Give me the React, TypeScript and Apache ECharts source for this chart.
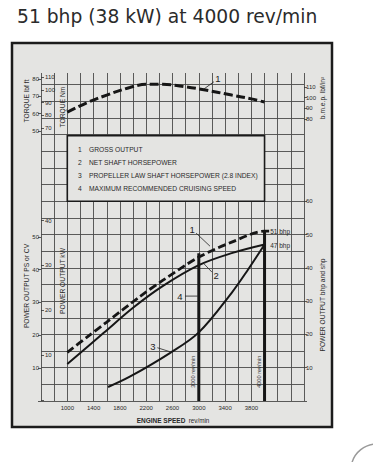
import React, { useEffect, useRef } from 'react';
import * as echarts from 'echarts';

// ---- data ----
const rpmLabels = [1000, 1400, 1800, 2200, 2600, 3000, 3400, 3800];
const torqueRpm = [1000, 1300, 1600, 1950, 2200, 2450, 2800, 3100, 3500, 3800, 4000];
const torqueNm = [82.5, 90, 96, 102, 104.5, 104.5, 102.5, 100, 96, 93, 90.5];
const grossRpm = [1000, 1300, 1600, 2100, 2450, 3000, 3500, 4000, 4070];
const grossBhp = [14.6, 19.2, 23.7, 31.3, 36.2, 43.2, 47.7, 51, 51];
const netRpm = [1000, 1550, 2000, 2450, 3000, 3500, 4000];
const netBhp = [11.1, 20.4, 28, 34.5, 40.8, 44.4, 47];
const propRpm = [1620, 1950, 2560, 3000, 3500, 3750, 4000];
const propBhp = [4.2, 7.3, 14.4, 20.6, 32.5, 39.5, 47];
const cruiseRpm = [3000, 4000];
const cruiseTop = [44.4, 51];
const legendItems = [
  'GROSS OUTPUT',
  'NET SHAFT HORSEPOWER',
  'PROPELLER LAW SHAFT HORSEPOWER (2.8 INDEX)',
  'MAXIMUM RECOMMENDED CRUISING SPEED',
];

const FONT = 'Liberation Sans, Arial, sans-serif';
const INK = '#2a2a2a';
const PANEL = '#e4e4e2';

const zip = (xs: number[], ys: number[]) => xs.map((x, i) => [x, ys[i]]);

export default function App() {
  const ref = useRef<HTMLDivElement>(null);
  useEffect(() => {
    document.body.style.margin = '0';
    const chart = echarts.init(ref.current!, null, { renderer: 'svg' });
    const L = 41, W = 263, B = 401, PX = 3.33; // px per bhp
    const yOf = (bhp: number) => B - bhp * PX;
    const grids = [
      { left: L, width: W, top: 73, height: B - 73 }, // 0 main (vertical lines, series)
      { left: L, width: W, top: yOf(50 * 0.9863), height: 50 * 0.9863 * PX }, // 1 PS
      { left: L, width: W, top: 220.5, height: 179.5 }, // 2 kW
      { left: L, width: W, top: yOf(60), height: 60 * PX }, // 3 bhp right
      { left: L, width: W, top: 79.2, height: 51.7 }, // 4 lbf ft
      { left: L, width: W, top: 77.3, height: 50.8 }, // 5 Nm
      { left: L, width: W, top: 87, height: 32 }, // 6 bmep
      { left: L, width: W, top: yOf(95), height: 95 * PX }, // 7 horizontal lines
    ];
    const lab = { fontSize: 6, color: INK, fontFamily: FONT };
    const hide0 = (v: number) => (v === 0 ? '' : String(v));
    const tick = (inside: boolean) => ({ show: true, length: 3, inside, lineStyle: { color: '#333', width: 0.8 } });
    const xAxis: any[] = grids.map((_, i) =>
      i === 0
        ? {
            gridIndex: 0, type: 'value', min: 600, max: 4600, interval: 200,
            splitLine: { show: true, lineStyle: { color: '#4a4a4a', width: 0.9 } },
            axisLine: { show: false }, axisTick: { show: false },
            axisLabel: { ...lab, margin: 4, formatter: (v: number) => (rpmLabels.includes(v) ? String(v) : '') },
          }
        : { gridIndex: i, type: 'value', min: 600, max: 4600, show: false }
    );
    const yBase = { type: 'value', splitLine: { show: false }, axisLine: { show: false } };
    const yAxis: any[] = [
      { ...yBase, gridIndex: 0, min: 0, max: 98.5, axisLabel: { show: false }, axisTick: { show: false } },
      { ...yBase, gridIndex: 1, min: 0, max: 50, interval: 10, position: 'left', axisTick: tick(false), axisLabel: { ...lab, margin: 2, formatter: hide0 } },
      { ...yBase, gridIndex: 2, min: 0, max: 40, interval: 10, position: 'left', axisTick: tick(true), axisLabel: { ...lab, inside: true, margin: 4, formatter: hide0 } },
      { ...yBase, gridIndex: 3, min: 0, max: 60, interval: 10, position: 'right', axisTick: tick(false), axisLabel: { ...lab, margin: 2, formatter: hide0 } },
      { ...yBase, gridIndex: 4, min: 50, max: 80, interval: 10, position: 'left', axisTick: tick(false), axisLabel: { ...lab, margin: 2 } },
      { ...yBase, gridIndex: 5, min: 70, max: 110, interval: 10, position: 'left', axisTick: tick(true), axisLabel: { ...lab, inside: true, margin: 4 } },
      { ...yBase, gridIndex: 6, min: 80, max: 110, interval: 10, position: 'right', axisTick: tick(false), axisLabel: { ...lab, margin: 2 } },
      {
        ...yBase, gridIndex: 7, min: 0, max: 95, interval: 5,
        splitLine: { show: true, lineStyle: { color: '#4a4a4a', width: 0.9 } },
        axisLabel: { show: false }, axisTick: { show: false },
      },
    ];
    const line = (data: number[][], width: number, dash: any, smooth: number | boolean, xi = 0) => ({
      type: 'line', xAxisIndex: xi, yAxisIndex: xi, data, smooth, symbol: 'none', z: 5,
      lineStyle: { color: '#161616', width, type: dash, cap: 'butt' },
    });
    const series: any[] = [
      line(zip(torqueRpm, torqueNm), 3, [9, 3.5], 0.35, 5),
      line(zip(grossRpm, grossBhp), 2.8, [8, 3.5], 0.3),
      line(zip(netRpm, netBhp), 2, 'solid', 0.35),
      line(zip(propRpm, propBhp), 2, 'solid', 0.35),
      ...cruiseRpm.map((r, i) => line([[r, 0], [r, cruiseTop[i]]], 3, 'solid', false)),
    ];
    chart.setOption({ animation: false, grid: grids, xAxis, yAxis, series });

    const px = (gi: number, p: number[]) => chart.convertToPixel({ gridIndex: gi }, p) as number[];
    const g: any[] = [];
    g.push({ type: 'rect', z: -10, shape: { x: 12, y: 43, width: 320, height: 384 }, style: { fill: PANEL, stroke: '#1c1c1c', lineWidth: 2.5 } });
    g.push({ type: 'text', x: 17, y: 16, style: { text: '51 bhp (38 kW) at 4000 rev/min', fontSize: 18.7, fontFamily: 'DejaVu Sans', fill: '#2b2b2b', verticalAlign: 'middle' } });
    // legend box
    const a = px(0, [1000, 80]);
    const b = px(0, [4000, 60]);
    g.push({ type: 'rect', z: 20, shape: { x: a[0], y: a[1] + 1, width: b[0] - a[0], height: b[1] - a[1] - 1 }, style: { fill: PANEL, stroke: '#1a1a1a', lineWidth: 1.6 } });
    legendItems.forEach((t, i) => {
      const y = 149 + i * 13;
      g.push({ type: 'text', z: 21, x: 78, y, style: { text: String(i + 1), fontSize: 6.7, fontFamily: FONT, fill: INK, verticalAlign: 'middle' } });
      g.push({ type: 'text', z: 21, x: 89, y, style: { text: t, fontSize: 6.7, fontFamily: FONT, fill: INK, verticalAlign: 'middle' } });
    });
    // axis titles
    const vt = (text: string, x: number, y: number) => ({
      type: 'text', z: 21, x, y, rotation: Math.PI / 2,
      style: { text, fontSize: 6.7, fontFamily: FONT, fill: INK, align: 'center', verticalAlign: 'middle' },
    });
    g.push(vt('TORQUE lbf ft', 26, 101));
    g.push(vt('TORQUE Nm', 62, 107));
    g.push(vt('POWER OUTPUT PS or CV', 26, 286));
    g.push(vt('POWER OUTPUT kW', 62, 281));
    g.push(vt('b.m.e.p. lbf/in²', 322, 98));
    g.push(vt('POWER OUTPUT bhp and shp', 322, 305));
    g.push({
      type: 'text', z: 21, x: 173, y: 420,
      style: {
        text: '{b|ENGINE SPEED} {n|rev/min}', align: 'center', verticalAlign: 'middle',
        rich: { b: { fontSize: 6.5, fontWeight: 'bold', fontFamily: FONT, fill: INK, color: INK }, n: { fontSize: 6.3, fontFamily: FONT, fill: INK, color: INK } },
      },
    });
    // curve annotations: number, leader start, leader end (data coords)
    const notes = [
      { n: '1', gi: 5, at: [3292, 108.7], from: [3230, 106.5], to: [3079, 100.8] },
      { n: '1', gi: 0, at: [2897, 51.4], from: [2960, 50.4], to: [3170, 46.5] },
      { n: '2', gi: 0, at: [3262, 37.8], from: [3200, 38.7], to: [3079, 41.2] },
      { n: '4', gi: 0, at: [2714, 31.5], from: [2790, 31.5], to: [2985, 31.5] },
      { n: '3', gi: 0, at: [2303, 16.5], from: [2370, 16], to: [2592, 14.6] },
    ];
    notes.forEach((o) => {
      const p = px(o.gi, o.at), f = px(o.gi, o.from), t = px(o.gi, o.to);
      g.push({ type: 'text', z: 21, x: p[0], y: p[1], style: { text: o.n, fontSize: 9.5, fontFamily: FONT, fill: '#1e1e1e', align: 'center', verticalAlign: 'middle' } });
      g.push({ type: 'line', z: 21, shape: { x1: f[0], y1: f[1], x2: t[0], y2: t[1] }, style: { stroke: '#222', lineWidth: 0.8 } });
    });
    const p51 = px(0, [4085, 50.8]);
    const p47 = px(0, [4085, 46.6]);
    g.push({ type: 'text', z: 21, x: p51[0], y: p51[1], style: { text: '51 bhp', fontSize: 6.5, fontFamily: FONT, fill: INK, verticalAlign: 'middle' } });
    g.push({ type: 'text', z: 21, x: p47[0], y: p47[1], style: { text: '47 bhp', fontSize: 6.5, fontFamily: FONT, fill: INK, verticalAlign: 'middle' } });
    cruiseRpm.forEach((r) => {
      const p = px(0, [r - 90, 8.8]);
      g.push({ type: 'text', z: 21, x: p[0], y: p[1], rotation: Math.PI / 2, style: { text: `${r} rev/min`, fontSize: 5.6, fontFamily: FONT, fill: INK, align: 'center', verticalAlign: 'middle' } });
    });
    g.push({ type: 'arc', z: 1, shape: { cx: 377, cy: 470, r: 26, startAngle: Math.PI * 1.02, endAngle: Math.PI * 1.55 }, style: { stroke: '#9a9a9a', lineWidth: 1.5, fill: 'none' } });
    chart.setOption({ graphic: g });
    return () => chart.dispose();
  }, []);
  return <div ref={ref} style={{ width: 373, height: 462 }} />;
}
